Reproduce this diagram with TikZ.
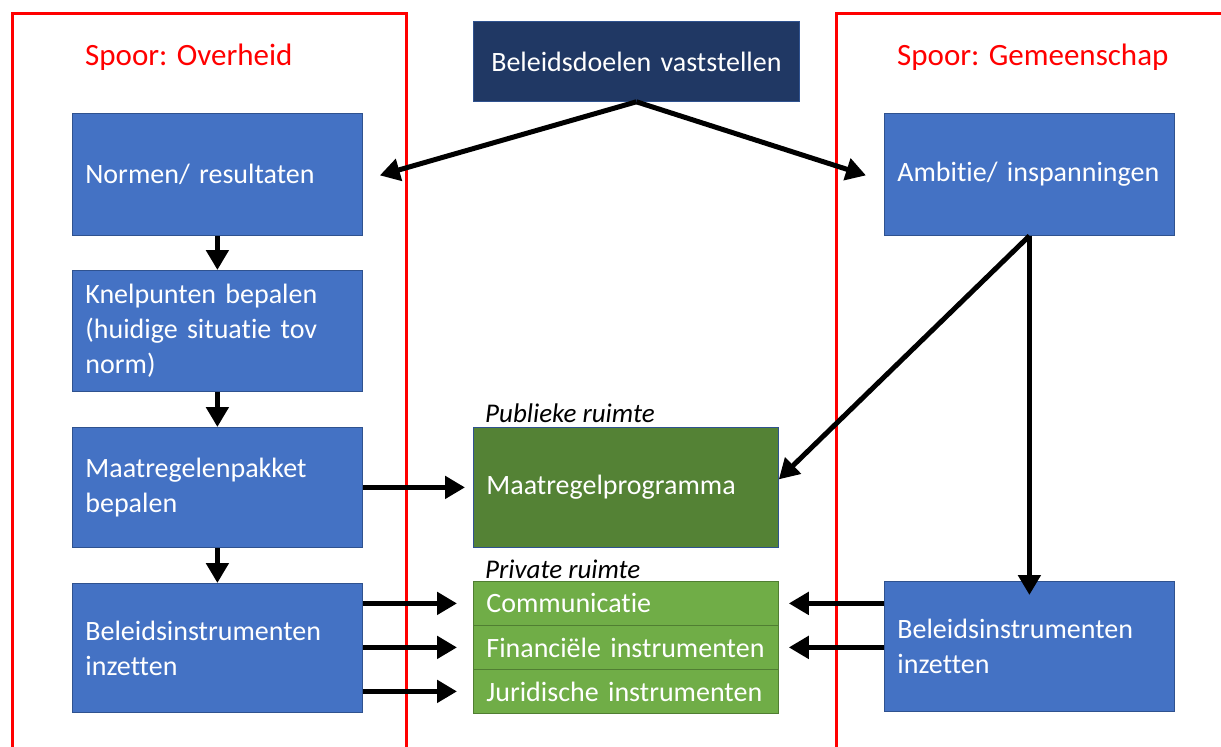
\documentclass[tikz,border=0pt]{standalone}
\usepackage{fontspec}
\setmainfont{Carlito}[RawFeature=-liga]
\usetikzlibrary{arrows.meta}
\definecolor{cblue}{HTML}{4472C4}
\definecolor{cnavy}{HTML}{203864}
\definecolor{cdgreen}{HTML}{548235}
\definecolor{clgreen}{HTML}{70AD47}
\definecolor{cborder}{HTML}{2F528F}
\definecolor{cgborder}{HTML}{507E32}
\tikzset{
  box/.style={draw=cborder, line width=0.8pt, text=white, anchor=north west,
    inner xsep=13pt, inner ysep=0pt, align=left,
    font=\fontsize{28}{35}\selectfont},
  bluebox/.style={box, fill=cblue, minimum width=290pt, text width=264pt},
  gbox/.style={box, draw=cgborder, fill=clgreen, minimum width=305pt, text width=279pt,
    minimum height=44pt, font=\fontsize{28}{32}\selectfont},
  spoor/.style={draw=red, line width=3pt},
  spoorlabel/.style={text=red, anchor=base west, inner sep=0pt, font=\fontsize{31}{35}\selectfont},
  ruimte/.style={anchor=base west, inner sep=0pt, font=\fontsize{27}{30}\selectfont\itshape},
  arr/.style={line width=5pt, -{Triangle[length=20pt,width=22pt]}},
}
\begin{document}
\begin{tikzpicture}[x=1pt,y=-1pt]
\useasboundingbox (0,0) rectangle (1221,747);
\fill[white] (0,0) rectangle (1221,747);
% tracks
\draw[spoor] (12,760) -- (12,13) -- (406,13) -- (406,760);
\draw[spoor] (836,760) -- (836,13) -- (1235,13);
\node[spoorlabel] (lo) at (85,65) {Spoor: Overheid};
\node[spoorlabel] (lg) at (897,65) {Spoor: Gemeenschap};
% top
\node[box, fill=cnavy, minimum width=326pt, minimum height=80pt, text width=310pt, inner xsep=8pt, align=center] (top) at (473,21) {Beleidsdoelen vaststellen};
% left column
\node[bluebox, minimum height=122pt] (normen) at (72,113) {Normen/ resultaten};
\node[bluebox, minimum height=121pt] (knel) at (72,270) {Knelpunten bepalen\\(huidige situatie tov\\norm)};
\node[bluebox, minimum height=120pt] (mpakket) at (72,427) {Maatregelenpakket\\bepalen};
\node[bluebox, minimum height=129pt] (bil) at (72,583) {Beleidsinstrumenten\\inzetten};
% right column
\node[bluebox, minimum height=122pt] (amb) at (884,113) {Ambitie/ inspanningen};
\node[bluebox, minimum height=130pt] (bir) at (884,581) {Beleidsinstrumenten\\inzetten};
% middle
\node[ruimte] (pub) at (485,422) {Publieke ruimte};
\node[box, fill=cdgreen, minimum width=305pt, text width=279pt, minimum height=120pt] (mprog) at (473,427) {Maatregelprogramma};
\node[ruimte] (priv) at (485,578) {Private ruimte};
\node[gbox] (comm) at (473,581) {Communicatie};
\node[gbox] (fin) at (473,625) {Financiële instrumenten};
\node[gbox] (jur) at (473,669) {Juridische instrumenten};
% connectors
\draw[arr] (top.south) -- ([xshift=17pt,yshift=-1pt]normen.east);
\draw[arr] (top.south) -- ([xshift=-18pt,yshift=-1pt]amb.west);
\draw[arr] (normen.south) -- (knel.north);
\draw[arr] (knel.south) -- (mpakket.north);
\draw[arr] (mpakket.south) -- (bil.north);
\draw[arr] (mpakket.east) -- ([xshift=-8pt]mprog.west);
\draw[arr] (amb.south) -- ([yshift=8pt]mprog.east);
\draw[arr] (amb.south) -- ([yshift=-14pt]bir.north);
\draw[arr] (bil.east |- comm.west) -- ([xshift=-16pt]comm.west);
\draw[arr] (bil.east |- fin.west) -- ([xshift=-16pt]fin.west);
\draw[arr] (bil.east |- jur.west) -- ([xshift=-16pt]jur.west);
\draw[arr] (bir.west |- comm.east) -- ([xshift=10pt]comm.east);
\draw[arr] (bir.west |- fin.east) -- ([xshift=10pt]fin.east);
\end{tikzpicture}
\end{document}
